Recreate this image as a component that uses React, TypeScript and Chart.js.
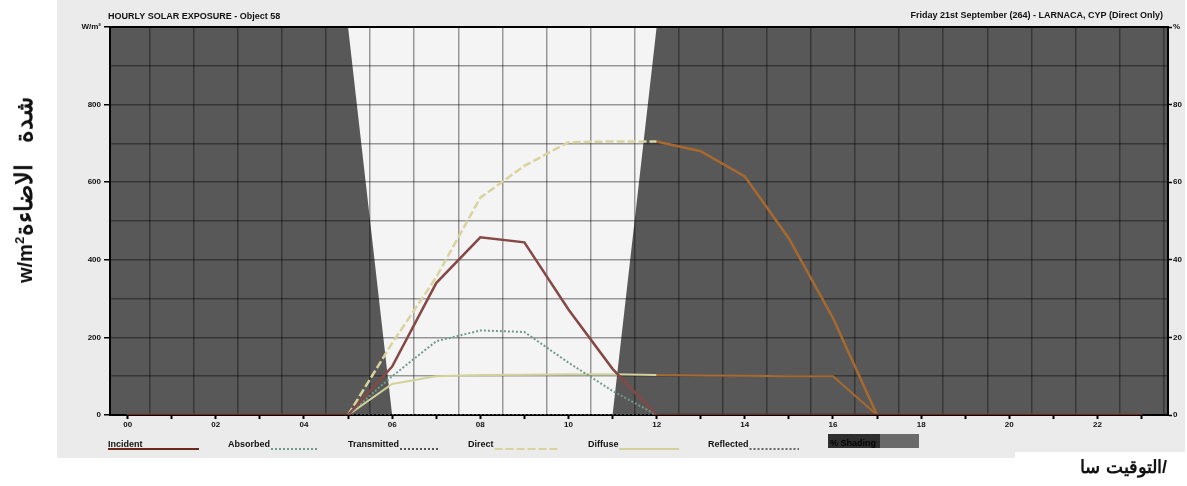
import React, { useEffect, useRef } from "react";
import { Chart, registerables } from "chart.js";

Chart.register(...registerables);

// ---------------- data ----------------
const hours = [0, 1, 2, 3, 4, 5, 6, 7, 8, 9, 10, 11, 12, 13, 14, 15, 16, 17, 18, 19, 20, 21, 22, 23];
const hourLabels = ["00", "", "02", "", "04", "", "06", "", "08", "", "10", "", "12", "", "14", "", "16", "", "18", "", "20", "", "22", ""];

const incident = [0, 0, 0, 0, 0, 0, 125, 340, 458, 445, 272, 119, 0, 0, 0, 0, 0, 0, 0, 0, 0, 0, 0, 0];
const absorbed = [0, 0, 0, 0, 0, 0, 100, 190, 218, 214, 135, 62, 0, 0, 0, 0, 0, 0, 0, 0, 0, 0, 0, 0];
const transmitted = [0, 0, 0, 0, 0, 0, 0, 0, 0, 0, 0, 0, 0, 0, 0, 0, 0, 0, 0, 0, 0, 0, 0, 0];
const direct = [0, 0, 0, 0, 0, 0, 185, 355, 560, 642, 703, 705, 705, 680, 615, 455, 250, 0, 0, 0, 0, 0, 0, 0];
const diffuse = [0, 0, 0, 0, 0, 0, 80, 100, 103, 104, 105, 105, 103, 102, 101, 100, 100, 0, 0, 0, 0, 0, 0, 0];
const reflected = [0, 0, 0, 0, 0, 0, 0, 0, 0, 0, 0, 0, 0, 0, 0, 0, 0, 0, 0, 0, 0, 0, 0, 0];
const shadingPct = [100, 100, 100, 100, 100, 100, 0, 0, 0, 0, 0, 0, 100, 100, 100, 100, 100, 100, 100, 100, 100, 100, 100, 100];

const leftTickValues = [0, 200, 400, 600, 800, 1000];
const leftTickTexts = ["0", "200", "400", "600", "800", "W/m²"];
const rightTickValues = [0, 20, 40, 60, 80, 100];
const rightTickTexts = ["0", "20", "40", "60", "80", "%"];

const titleLeft = "HOURLY SOLAR EXPOSURE - Object 58";
const titleRight = "Friday 21st September (264) - LARNACA, CYP (Direct Only)";

// ---------------- styles ----------------
const X_MIN = -0.4;
const X_MAX = 23.6;
const FONT = "Arial, 'Liberation Sans', sans-serif";
const SHADE_COLOR = "#585858";

type Style = { light: string; dark: string; dash: number[]; darkDash: number[]; width: number };
const series: { label: string; values: number[]; style: Style; order: number }[] = [
  { label: "Incident", values: incident, style: { light: "#864845", dark: "#6a2a1c", dash: [], darkDash: [], width: 2.5 }, order: 1 },
  { label: "Absorbed", values: absorbed, style: { light: "#6f9c88", dark: "#5b8872", dash: [2, 2], darkDash: [2, 2], width: 2 }, order: 2 },
  { label: "Transmitted", values: transmitted, style: { light: "#555555", dark: "#3a3a3a", dash: [2, 2], darkDash: [2, 2], width: 1.5 }, order: 6 },
  { label: "Direct", values: direct, style: { light: "#d9d39e", dark: "#a8692f", dash: [8, 3], darkDash: [], width: 2.5 }, order: 4 },
  { label: "Diffuse", values: diffuse, style: { light: "#d2d39a", dark: "#a66a30", dash: [], darkDash: [], width: 2 }, order: 3 },
  { label: "Reflected", values: reflected, style: { light: "#666666", dark: "#444444", dash: [2, 2], darkDash: [2, 2], width: 1.5 }, order: 7 },
];

const inShade = (c: any) => shadingPct[c.p0DataIndex] >= 50 && shadingPct[c.p1DataIndex] >= 50;

const chromePlugin = {
  id: "ecoChrome",
  afterDraw(chart: any) {
    const { ctx, chartArea } = chart;
    ctx.save();
    // titles
    ctx.fillStyle = "#111";
    ctx.font = `bold 9px ${FONT}`;
    ctx.textBaseline = "middle";
    ctx.textAlign = "left";
    ctx.fillText(titleLeft, chartArea.left - 2, 17);
    ctx.textAlign = "right";
    ctx.fillText(titleRight, chartArea.right - 5, 16);

    // legend
    ctx.font = `bold 9px ${FONT}`;
    ctx.textBaseline = "alphabetic";
    ctx.textAlign = "left";
    const ly = 447;
    series.forEach((s, i) => {
      const x0 = 108 + i * 120;
      ctx.fillStyle = "#111";
      ctx.fillText(s.label, x0, ly);
      const w = ctx.measureText(s.label).width;
      ctx.beginPath();
      ctx.setLineDash(s.style.dash);
      ctx.strokeStyle = s.label === "Incident" ? s.style.dark : s.style.light;
      ctx.lineWidth = 2;
      ctx.moveTo(i === 0 ? x0 : x0 + w + 1, ly + 2);
      ctx.lineTo(x0 + 91, ly + 2);
      ctx.stroke();
    });
    ctx.setLineDash([]);
    const sx = 108 + 6 * 120;
    ctx.fillStyle = "#6a6a6a";
    ctx.fillRect(sx, 434, 91, 14);
    ctx.fillStyle = "#2e2e2e";
    ctx.fillRect(sx, 434, 52, 14);
    ctx.fillStyle = "#050505";
    ctx.fillText("% Shading", sx + 2, ly - 1);
    ctx.restore();
  },
};

export default function App() {
  const canvasRef = useRef<HTMLCanvasElement | null>(null);

  useEffect(() => {
    const canvas = canvasRef.current;
    if (!canvas) return;
    Chart.defaults.font.family = FONT;

    const lineSets = series.map((s) => ({
      label: s.label,
      data: hours.map((h, i) => ({ x: h, y: s.values[i] })),
      xAxisID: "x",
      yAxisID: "y",
      borderColor: s.style.light,
      borderWidth: s.style.width,
      borderDash: s.style.dash,
      pointRadius: 0,
      fill: false,
      tension: 0,
      order: s.order,
      segment: {
        borderColor: (c: any) => (inShade(c) ? s.style.dark : s.style.light),
        borderDash: (c: any) => (inShade(c) ? s.style.darkDash : s.style.dash),
      },
    }));

    const shadeData = [
      { x: X_MIN, y: shadingPct[0] },
      ...hours.map((h, i) => ({ x: h, y: shadingPct[i] })),
      { x: X_MAX, y: shadingPct[shadingPct.length - 1] },
    ];

    const chart = new Chart(canvas, {
      type: "line",
      data: {
        datasets: [
          ...lineSets,
          {
            label: "% Shading",
            data: shadeData,
            xAxisID: "x",
            yAxisID: "y1",
            borderWidth: 0,
            borderColor: "rgba(0,0,0,0)",
            backgroundColor: SHADE_COLOR,
            pointRadius: 0,
            fill: "origin",
            tension: 0,
            order: 100,
          } as any,
        ],
      },
      options: {
        responsive: false,
        maintainAspectRatio: false,
        animation: false,
        layout: { padding: { top: 27, left: 0, right: 0, bottom: 0 } },
        plugins: {
          legend: { display: false },
          tooltip: { enabled: false },
          title: { display: false },
          filler: { drawTime: "beforeDraw" } as any,
        },
        scales: {
          x: {
            type: "linear",
            position: "bottom",
            min: X_MIN,
            max: X_MAX,
            afterBuildTicks: (s: any) => {
              s.ticks = hours.map((h) => ({ value: h }));
            },
            afterFit: (s: any) => {
              s.height = 71;
            },
            ticks: {
              autoSkip: false,
              maxRotation: 0,
              padding: 1,
              color: "#111",
              font: { size: 8, weight: "bold" },
              callback: (v: any) => hourLabels[hours.indexOf(Number(v))] ?? "",
            },
            grid: { drawOnChartArea: false, drawTicks: true, tickLength: 4, tickColor: "#000", tickWidth: 2 },
            border: { display: true, color: "#000", width: 2 },
          },
          xg: {
            type: "linear",
            position: "top",
            min: X_MIN,
            max: X_MAX,
            afterBuildTicks: (s: any) => {
              s.ticks = hours.map((h) => ({ value: h + 0.5 }));
            },
            afterFit: (s: any) => {
              s.height = 0;
            },
            ticks: { display: false },
            grid: { color: "rgba(0,0,0,0.38)", lineWidth: 1.5, drawTicks: false },
            border: { display: true, color: "#000", width: 2 },
          },
          y: {
            type: "linear",
            position: "left",
            min: 0,
            max: 1000,
            afterFit: (s: any) => {
              s.width = 110;
            },
            ticks: {
              stepSize: 100,
              padding: 3,
              color: "#111",
              font: { size: 8, weight: "bold" },
              callback: (v: any) => {
                const i = leftTickValues.indexOf(Number(v));
                return i >= 0 ? leftTickTexts[i] : "";
              },
            },
            grid: {
              color: "rgba(0,0,0,0.38)",
              lineWidth: 1.5,
              tickLength: 6,
              tickWidth: 1.5,
              tickColor: (c: any) =>
                c.tick && leftTickValues.includes(c.tick.value) ? "#000" : "rgba(0,0,0,0)",
            },
            border: { display: true, color: "#000", width: 2 },
          },
          y1: {
            type: "linear",
            position: "right",
            min: 0,
            max: 100,
            afterFit: (s: any) => {
              s.width = 19;
            },
            ticks: {
              stepSize: 10,
              padding: 1,
              color: "#111",
              font: { size: 8, weight: "bold" },
              callback: (v: any) => {
                const i = rightTickValues.indexOf(Number(v));
                return i >= 0 ? rightTickTexts[i] : "";
              },
            },
            grid: {
              drawOnChartArea: false,
              tickLength: 4,
              tickWidth: 1.5,
              tickColor: (c: any) =>
                c.tick && rightTickValues.includes(c.tick.value) ? "#000" : "rgba(0,0,0,0)",
            },
            border: { display: true, color: "#000", width: 2 },
          },
        } as any,
      },
      plugins: [chromePlugin],
    });

    return () => chart.destroy();
  }, []);

  return (
    <div
      style={{
        position: "fixed",
        left: 0,
        top: 0,
        width: 1187,
        height: 486,
        background: "#ffffff",
        overflow: "hidden",
        fontFamily: FONT,
      }}
    >
      <div style={{ position: "absolute", left: 57, top: 0, width: 1128, height: 458, background: "#ebebeb" }} />
      <div style={{ position: "absolute", left: 110, top: 27, width: 1058, height: 388, background: "#f4f4f4" }} />
      <div style={{ position: "absolute", left: 1015, top: 452, width: 172, height: 34, background: "#ffffff" }} />
      <canvas
        ref={canvasRef}
        width={1187}
        height={486}
        style={{ position: "absolute", left: 0, top: 0, width: 1187, height: 486 }}
      />
      <div
        style={{
          position: "absolute",
          left: 24,
          top: 190,
          transform: "translate(-50%, -50%) rotate(-90deg)",
          whiteSpace: "nowrap",
          fontWeight: "bold",
          color: "#111",
          lineHeight: 1,
          display: "flex",
          flexDirection: "row",
          alignItems: "baseline",
          direction: "ltr",
        }}
      >
        <span style={{ fontSize: 20 }}>
          w/m<sup style={{ fontSize: 13 }}>2</sup>
        </span>
        <span dir="rtl" style={{ fontSize: 24, wordSpacing: 14, marginLeft: 1 }}>
          شدة الاضاءة
        </span>
      </div>
      <div
        style={{
          position: "absolute",
          right: 20,
          top: 456,
          display: "flex",
          flexDirection: "row",
          direction: "ltr",
          gap: 6,
          whiteSpace: "nowrap",
          fontWeight: "bold",
          fontSize: 18,
          color: "#111",
        }}
      >
        <span>سا</span>
        <span dir="ltr" style={{ unicodeBidi: "isolate" }}>التوقيت/</span>
      </div>
    </div>
  );
}
